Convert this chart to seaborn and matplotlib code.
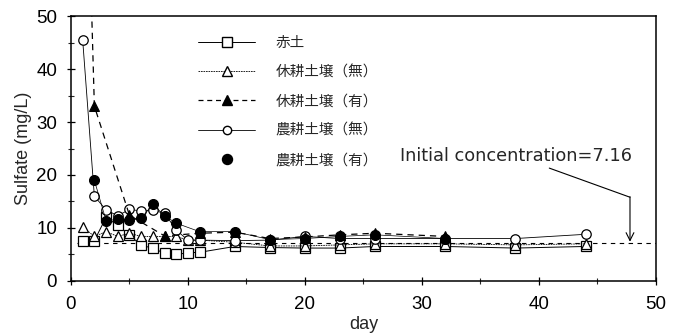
import matplotlib
matplotlib.use("Agg")
import matplotlib.pyplot as plt
from matplotlib.lines import Line2D
import seaborn as sns
import numpy as np

# ---- data ----
days_all = [1, 2, 3, 4, 5, 6, 7, 8, 9, 10, 11, 14, 17, 20, 23, 26, 32, 38, 44]
akatsuchi = [7.6, 7.6, 12.0, 10.5, 8.7, 6.7, 6.2, 5.2, 5.0, 5.3, 5.4, 6.5, 6.3, 6.2, 6.2, 6.5, 6.5, 6.2, 6.5]
kyuko_nashi = [10.2, 8.4, 9.3, 8.4, 9.0, 8.4, 8.4, 8.4, 8.4, 7.7, 7.7, 7.3, 6.6, 6.6, 6.8, 7.0, 7.0, 6.8, 7.0]
days_kyuko_ari = [1, 2, 5, 8, 11, 14, 17, 20, 23, 26, 32]
kyuko_ari = [110, 33.0, 12.4, 8.5, 9.0, 9.2, 8.0, 8.3, 8.7, 9.0, 8.4]
noko_nashi = [45.5, 16.0, 13.4, 12.3, 13.5, 13.2, 13.3, 12.8, 9.6, 7.7, 7.7, 7.6, 7.7, 8.4, 8.0, 8.0, 8.0, 8.0, 8.8]
days_noko_ari = [2, 3, 4, 5, 6, 7, 8, 9, 11, 14, 17, 20, 23, 26, 32]
noko_ari = [19.0, 11.4, 11.6, 11.5, 11.8, 14.5, 12.3, 10.9, 9.3, 9.3, 7.8, 8.0, 8.4, 8.7, 8.0]

labels = ["赤土", "休耕土壌（無）", "休耕土壌（有）", "農耕土壌（無）", "農耕土壌（有）"]
initial_conc = 7.16
annot_text = "Initial concentration=7.16"

sns.set_style("ticks")
plt.rcParams["font.family"] = ["Liberation Sans", "Noto Sans CJK JP", "DejaVu Sans"]

fig = plt.figure(figsize=(6.76, 3.36), dpi=100)
ax = fig.add_axes([0.105, 0.164, 0.865, 0.788])

k = "black"
ms = 6.8
sns.lineplot(x=days_all, y=akatsuchi, ax=ax, color=k, lw=0.7, ls="-",
             marker="s", markersize=ms, markerfacecolor="white", markeredgecolor=k,
             markeredgewidth=0.9, zorder=3)
sns.lineplot(x=days_all, y=kyuko_nashi, ax=ax, color=k, lw=0.6, ls=(0, (2, 1)),
             marker="^", markersize=ms, markerfacecolor="white", markeredgecolor=k,
             markeredgewidth=0.9, zorder=3)
sns.lineplot(x=days_kyuko_ari, y=kyuko_ari, ax=ax, color=k, lw=0.9, ls=(0, (5, 4)),
             marker="^", markersize=ms, markerfacecolor=k, markeredgecolor=k, zorder=4)
sns.lineplot(x=days_all, y=noko_nashi, ax=ax, color=k, lw=0.6, ls="-",
             marker="o", markersize=ms, markerfacecolor="white", markeredgecolor=k,
             markeredgewidth=0.9, zorder=3)
sns.lineplot(x=days_noko_ari, y=noko_ari, ax=ax, color=k, lw=0.5, ls="-",
             marker="o", markersize=7.2, markerfacecolor=k, markeredgecolor=k, zorder=4)

ax.plot([0.5, 50], [initial_conc, initial_conc], color=k, lw=0.8, ls=(0, (4, 4)), zorder=2)

ax.set_xlim(0, 50)
ax.set_ylim(0, 50)
ax.set_xticks(range(0, 51, 10))
ax.set_yticks(range(0, 51, 10))
ax.set_xticks(range(5, 50, 10), minor=True)
ax.set_yticks(range(5, 50, 10), minor=True)
ax.tick_params(axis="both", which="major", direction="inout", length=6, width=0.9,
               labelsize=13.5, colors=k)
ax.tick_params(axis="y", which="major", pad=7)
ax.tick_params(axis="x", which="major", pad=8)
ax.tick_params(axis="both", which="minor", direction="inout", length=4, width=0.8)
for s in ax.spines.values():
    s.set_visible(True)
    s.set_linewidth(1.1)
    s.set_color(k)

ax.set_xlabel("day", fontsize=13, labelpad=2)
ax.set_ylabel("Sulfate (mg/L)", fontsize=13, labelpad=3)

ax.text(28.1, 22.6, annot_text, fontsize=12.8, va="baseline", ha="left",
        family=["DejaVu Sans"])
ax.plot([40.9, 47.8], [21.3, 15.8], color=k, lw=0.8)
ax.annotate("", xy=(47.8, 7.4), xytext=(47.8, 15.9),
            arrowprops=dict(arrowstyle="->", lw=0.8, color=k, mutation_scale=14,
                            shrinkA=0, shrinkB=0))

handles = [
    Line2D([], [], color=k, lw=0.7, ls="-", marker="s", markersize=ms,
           markerfacecolor="white", markeredgecolor=k),
    Line2D([], [], color=k, lw=0.6, ls=(0, (2, 1)), marker="^", markersize=6.5,
           markerfacecolor="white", markeredgecolor=k),
    Line2D([], [], color=k, lw=0.9, ls=(0, (4, 3)), marker="^", markersize=ms,
           markerfacecolor=k, markeredgecolor=k),
    Line2D([], [], color=k, lw=0.6, ls="-", marker="o", markersize=6,
           markerfacecolor="white", markeredgecolor=k),
    Line2D([], [], color=k, lw=0, ls="none", marker="o", markersize=7.2,
           markerfacecolor=k, markeredgecolor=k),
]
leg = ax.legend(handles, labels, loc="upper left", bbox_to_anchor=(0.195, 0.975),
                frameon=False, handlelength=3.9, handletextpad=1.4,
                labelspacing=1.05, prop={"family": ["Noto Sans CJK JP"], "size": 10.5})

fig.savefig("out.png", dpi=100)
